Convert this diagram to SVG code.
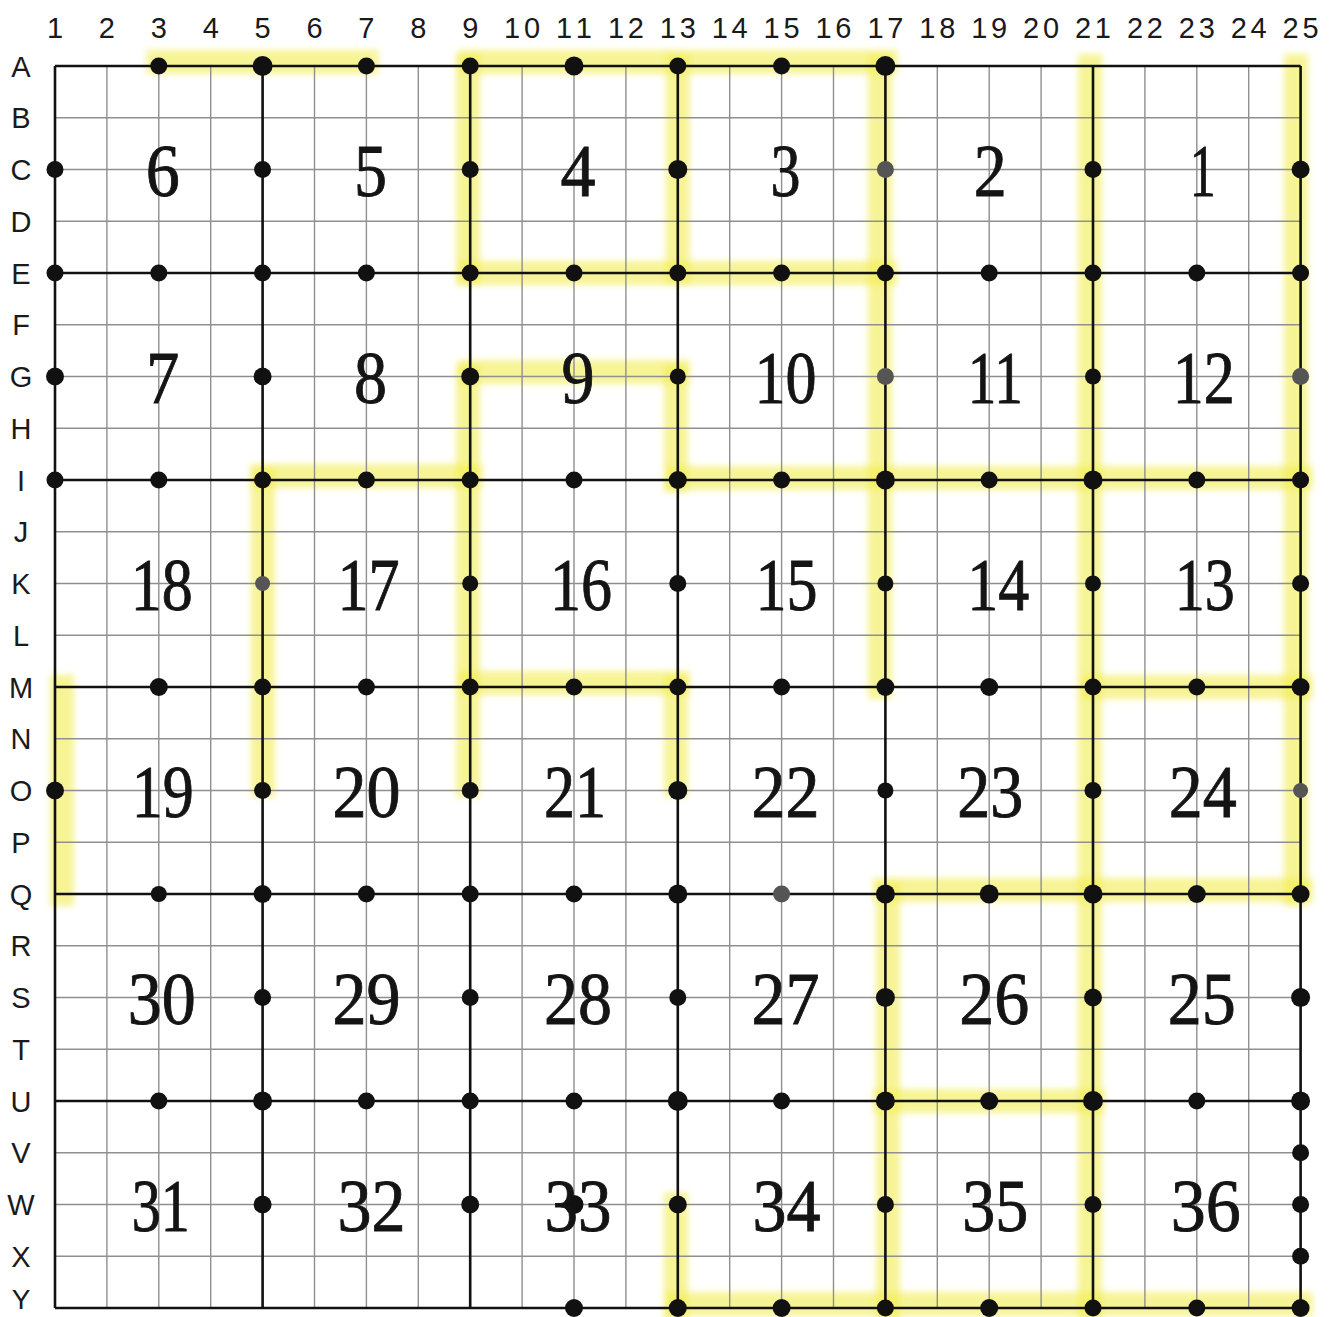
<svg xmlns="http://www.w3.org/2000/svg" width="1339" height="1317" viewBox="0 0 1339 1317">
<style>
.thin{stroke:#8f8f8f;stroke-width:1.4;fill:none}
.thick{stroke:#111;stroke-width:2.6;fill:none}
.hl{stroke:#f1ec4e;stroke-width:24;fill:none;opacity:0.6;stroke-linecap:square}
.dot{fill:#111}
.dotg{fill:#555}
.num{font-family:"Liberation Serif","Times New Roman",serif;font-size:74px;fill:#141414;stroke:#141414;stroke-width:0.9;text-anchor:middle}
.col{font-family:"Liberation Sans",Arial,sans-serif;font-size:29px;fill:#1a1a1a;text-anchor:middle}
.row{font-family:"Liberation Sans",Arial,sans-serif;font-size:29px;fill:#1a1a1a;text-anchor:middle}
</style>
<defs>
<filter id="soft" x="-5%" y="-5%" width="110%" height="110%"><feGaussianBlur stdDeviation="3"/></filter>
</defs>
<rect x="0" y="0" width="1339" height="1317" fill="#ffffff"/>

<g id="highlights" filter="url(#soft)">
<path class="hl" d="M158.8 62H366.4 M470.2 62H885.4 M470.2 273H885.4 M470.2 372H677.8 M262.6 476H470.2 M677.8 478H1300.6 M470.2 683H677.8 M1093 687H1300.6 M885.4 890H1300.6 M885.4 1101H1093 M677.8 1304H1300.6"/>
<path class="hl" d="M62 687V894 M263 480V785 M468 66V273 M468 376.5V785 M677.8 66V273 M676 376.5V480 M676 687V785 M676 1204.5V1308 M880 66V687 M888 894V1308 M1090 66V1308 M1296 66V894"/>
</g>

<g id="grid">
<path class="thin" d="M106.9 66V1308 M158.8 66V1308 M210.7 66V1308 M314.5 66V1308 M366.4 66V1308 M418.3 66V1308 M522.1 66V1308 M574 66V1308 M625.9 66V1308 M729.7 66V1308 M781.6 66V1308 M833.5 66V1308 M937.3 66V1308 M989.2 66V1308 M1041.1 66V1308 M1144.9 66V1308 M1196.8 66V1308 M1248.7 66V1308"/>
<path class="thin" d="M55 117.8H1300.6 M55 169.5H1300.6 M55 221.3H1300.6 M55 324.8H1300.6 M55 376.5H1300.6 M55 428.3H1300.6 M55 531.8H1300.6 M55 583.5H1300.6 M55 635.3H1300.6 M55 738.8H1300.6 M55 790.5H1300.6 M55 842.3H1300.6 M55 945.8H1300.6 M55 997.5H1300.6 M55 1049.3H1300.6 M55 1152.8H1300.6 M55 1204.5H1300.6 M55 1256.3H1300.6"/>
<path class="thick" d="M55 66V1308 M262.6 66V1308 M470.2 66V1308 M677.8 66V1308 M885.4 66V1308 M1093 66V1308 M1300.6 66V1308"/>
<path class="thick" d="M55 66H1300.6 M55 273H1300.6 M55 480H1300.6 M55 687H1300.6 M55 894H1300.6 M55 1101H1300.6 M55 1308H1300.6"/>
</g>

<g id="column-labels">
<text class="col" x="55" y="38">1</text>
<text class="col" x="106.9" y="38">2</text>
<text class="col" x="158.8" y="38">3</text>
<text class="col" x="210.7" y="38">4</text>
<text class="col" x="262.6" y="38">5</text>
<text class="col" x="314.5" y="38">6</text>
<text class="col" x="366.4" y="38">7</text>
<text class="col" x="418.3" y="38">8</text>
<text class="col" x="470.2" y="38">9</text>
<text class="col" x="522.1" y="38" textLength="36" lengthAdjust="spacing">10</text>
<text class="col" x="574" y="38" textLength="36" lengthAdjust="spacing">11</text>
<text class="col" x="625.9" y="38" textLength="36" lengthAdjust="spacing">12</text>
<text class="col" x="677.8" y="38" textLength="36" lengthAdjust="spacing">13</text>
<text class="col" x="729.7" y="38" textLength="36" lengthAdjust="spacing">14</text>
<text class="col" x="781.6" y="38" textLength="36" lengthAdjust="spacing">15</text>
<text class="col" x="833.5" y="38" textLength="36" lengthAdjust="spacing">16</text>
<text class="col" x="885.4" y="38" textLength="36" lengthAdjust="spacing">17</text>
<text class="col" x="937.3" y="38" textLength="36" lengthAdjust="spacing">18</text>
<text class="col" x="989.2" y="38" textLength="36" lengthAdjust="spacing">19</text>
<text class="col" x="1041.1" y="38" textLength="36" lengthAdjust="spacing">20</text>
<text class="col" x="1093" y="38" textLength="36" lengthAdjust="spacing">21</text>
<text class="col" x="1144.9" y="38" textLength="36" lengthAdjust="spacing">22</text>
<text class="col" x="1196.8" y="38" textLength="36" lengthAdjust="spacing">23</text>
<text class="col" x="1248.7" y="38" textLength="36" lengthAdjust="spacing">24</text>
<text class="col" x="1300.6" y="38" textLength="36" lengthAdjust="spacing">25</text>
</g>

<g id="row-labels">
<text class="row" x="21" y="76.5">A</text>
<text class="row" x="21" y="128.3">B</text>
<text class="row" x="21" y="180">C</text>
<text class="row" x="21" y="231.8">D</text>
<text class="row" x="21" y="283.5">E</text>
<text class="row" x="21" y="335.3">F</text>
<text class="row" x="21" y="387">G</text>
<text class="row" x="21" y="438.8">H</text>
<text class="row" x="21" y="490.5">I</text>
<text class="row" x="21" y="542.3">J</text>
<text class="row" x="21" y="594">K</text>
<text class="row" x="21" y="645.8">L</text>
<text class="row" x="21" y="697.5">M</text>
<text class="row" x="21" y="749.3">N</text>
<text class="row" x="21" y="801">O</text>
<text class="row" x="21" y="852.8">P</text>
<text class="row" x="21" y="904.5">Q</text>
<text class="row" x="21" y="956.3">R</text>
<text class="row" x="21" y="1008">S</text>
<text class="row" x="21" y="1059.8">T</text>
<text class="row" x="21" y="1111.5">U</text>
<text class="row" x="21" y="1163.3">V</text>
<text class="row" x="21" y="1215">W</text>
<text class="row" x="21" y="1266.8">X</text>
<text class="row" x="21" y="1309" style="font-size:28px">Y</text>
</g>

<g id="dots">
<circle class="dot" cx="158.8" cy="66" r="8.5"/><circle class="dot" cx="262.6" cy="66" r="10"/><circle class="dot" cx="366.4" cy="66" r="8.5"/><circle class="dot" cx="470.2" cy="66" r="8.5"/><circle class="dot" cx="574" cy="66" r="9.5"/><circle class="dot" cx="677.8" cy="66" r="8.5"/><circle class="dot" cx="781.6" cy="66" r="8.5"/><circle class="dot" cx="885.4" cy="66" r="10"/>
<circle class="dot" cx="55" cy="169.5" r="8.5"/><circle class="dot" cx="262.6" cy="169.5" r="8.5"/><circle class="dot" cx="470.2" cy="169.5" r="8.5"/><circle class="dot" cx="677.8" cy="169.5" r="9.5"/><circle class="dotg" cx="885.4" cy="169.5" r="8.5"/><circle class="dot" cx="1093" cy="169.5" r="8.5"/><circle class="dot" cx="1300.6" cy="169.5" r="9"/>
<circle class="dot" cx="55" cy="273" r="8.5"/><circle class="dot" cx="158.8" cy="273" r="8.5"/><circle class="dot" cx="262.6" cy="273" r="8.5"/><circle class="dot" cx="366.4" cy="273" r="8.5"/><circle class="dot" cx="470.2" cy="273" r="8.5"/><circle class="dot" cx="574" cy="273" r="8.5"/><circle class="dot" cx="677.8" cy="273" r="8.5"/><circle class="dot" cx="781.6" cy="273" r="8.5"/><circle class="dot" cx="885.4" cy="273" r="8.5"/><circle class="dot" cx="989.2" cy="273" r="8.5"/><circle class="dot" cx="1093" cy="273" r="8.5"/><circle class="dot" cx="1196.8" cy="273" r="8.5"/><circle class="dot" cx="1300.6" cy="273" r="8.5"/>
<circle class="dot" cx="55" cy="376.5" r="9"/><circle class="dot" cx="262.6" cy="376.5" r="9"/><circle class="dot" cx="470.2" cy="376.5" r="9"/><circle class="dot" cx="677.8" cy="376.5" r="8"/><circle class="dotg" cx="885.4" cy="376.5" r="8.5"/><circle class="dot" cx="1093" cy="376.5" r="8"/><circle class="dotg" cx="1300.6" cy="376.5" r="8.5"/>
<circle class="dot" cx="55" cy="480" r="8.5"/><circle class="dot" cx="158.8" cy="480" r="8.5"/><circle class="dot" cx="262.6" cy="480" r="8.5"/><circle class="dot" cx="366.4" cy="480" r="8.5"/><circle class="dot" cx="470.2" cy="480" r="8.5"/><circle class="dot" cx="574" cy="480" r="8.5"/><circle class="dot" cx="677.8" cy="480" r="9"/><circle class="dot" cx="781.6" cy="480" r="8.5"/><circle class="dot" cx="885.4" cy="480" r="9.5"/><circle class="dot" cx="989.2" cy="480" r="8.5"/><circle class="dot" cx="1093" cy="480" r="9.5"/><circle class="dot" cx="1196.8" cy="480" r="8.5"/><circle class="dot" cx="1300.6" cy="480" r="8.5"/>
<circle class="dotg" cx="262.6" cy="583.5" r="7.5"/><circle class="dot" cx="470.2" cy="583.5" r="8"/><circle class="dot" cx="677.8" cy="583.5" r="8.5"/><circle class="dot" cx="885.4" cy="583.5" r="8"/><circle class="dot" cx="1093" cy="583.5" r="8"/><circle class="dot" cx="1300.6" cy="583.5" r="8.5"/>
<circle class="dot" cx="158.8" cy="687" r="9"/><circle class="dot" cx="262.6" cy="687" r="8.5"/><circle class="dot" cx="366.4" cy="687" r="8.5"/><circle class="dot" cx="470.2" cy="687" r="8.5"/><circle class="dot" cx="574" cy="687" r="8.5"/><circle class="dot" cx="677.8" cy="687" r="8.5"/><circle class="dot" cx="781.6" cy="687" r="8.5"/><circle class="dot" cx="885.4" cy="687" r="9"/><circle class="dot" cx="989.2" cy="687" r="9"/><circle class="dot" cx="1093" cy="687" r="8.5"/><circle class="dot" cx="1196.8" cy="687" r="8.5"/><circle class="dot" cx="1300.6" cy="687" r="9"/>
<circle class="dot" cx="55" cy="790.5" r="9"/><circle class="dot" cx="262.6" cy="790.5" r="8.5"/><circle class="dot" cx="470.2" cy="790.5" r="8.5"/><circle class="dot" cx="677.8" cy="790.5" r="9.5"/><circle class="dot" cx="885.4" cy="790.5" r="8"/><circle class="dot" cx="1093" cy="790.5" r="8.5"/><circle class="dotg" cx="1300.6" cy="790.5" r="7.5"/>
<circle class="dot" cx="158.8" cy="894" r="8"/><circle class="dot" cx="262.6" cy="894" r="9"/><circle class="dot" cx="366.4" cy="894" r="8.5"/><circle class="dot" cx="470.2" cy="894" r="8.5"/><circle class="dot" cx="574" cy="894" r="8.5"/><circle class="dot" cx="677.8" cy="894" r="9.5"/><circle class="dotg" cx="781.6" cy="894" r="8.5"/><circle class="dot" cx="885.4" cy="894" r="9.5"/><circle class="dot" cx="989.2" cy="894" r="9.5"/><circle class="dot" cx="1093" cy="894" r="9.5"/><circle class="dot" cx="1196.8" cy="894" r="9"/><circle class="dot" cx="1300.6" cy="894" r="9"/>
<circle class="dot" cx="262.6" cy="997.5" r="8.5"/><circle class="dot" cx="470.2" cy="997.5" r="8.5"/><circle class="dot" cx="677.8" cy="997.5" r="8.5"/><circle class="dot" cx="885.4" cy="997.5" r="9.5"/><circle class="dot" cx="1093" cy="997.5" r="9"/><circle class="dot" cx="1300.6" cy="997.5" r="9.5"/>
<circle class="dot" cx="158.8" cy="1101" r="8.5"/><circle class="dot" cx="262.6" cy="1101" r="9.5"/><circle class="dot" cx="366.4" cy="1101" r="8.5"/><circle class="dot" cx="470.2" cy="1101" r="8.5"/><circle class="dot" cx="574" cy="1101" r="8.5"/><circle class="dot" cx="677.8" cy="1101" r="10"/><circle class="dot" cx="781.6" cy="1101" r="8.5"/><circle class="dot" cx="885.4" cy="1101" r="9.5"/><circle class="dot" cx="989.2" cy="1101" r="9"/><circle class="dot" cx="1093" cy="1101" r="10"/><circle class="dot" cx="1196.8" cy="1101" r="8.5"/><circle class="dot" cx="1300.6" cy="1101" r="9.5"/>
<circle class="dot" cx="1300.6" cy="1152.8" r="8.5"/>
<circle class="dot" cx="262.6" cy="1204.5" r="9"/><circle class="dot" cx="470.2" cy="1204.5" r="9"/><circle class="dot" cx="574" cy="1204.5" r="9.5"/><circle class="dot" cx="677.8" cy="1204.5" r="9"/><circle class="dot" cx="885.4" cy="1204.5" r="8.5"/><circle class="dot" cx="1093" cy="1204.5" r="8.5"/><circle class="dot" cx="1300.6" cy="1204.5" r="8.5"/>
<circle class="dot" cx="1300.6" cy="1256.3" r="8.5"/>
<circle class="dot" cx="574" cy="1308" r="9"/><circle class="dot" cx="677.8" cy="1308" r="9"/><circle class="dot" cx="781.6" cy="1308" r="9"/><circle class="dot" cx="885.4" cy="1308" r="8.5"/><circle class="dot" cx="989.2" cy="1308" r="9"/><circle class="dot" cx="1093" cy="1308" r="8.5"/><circle class="dot" cx="1196.8" cy="1308" r="8.5"/><circle class="dot" cx="1300.6" cy="1308" r="9"/>
</g>

<g id="cell-6"><text class="num" x="162.8" y="195.5" textLength="34" lengthAdjust="spacingAndGlyphs">6</text></g>
<g id="cell-5"><text class="num" x="370.4" y="195.5" textLength="33" lengthAdjust="spacingAndGlyphs">5</text></g>
<g id="cell-4"><text class="num" x="578" y="195.5" textLength="35" lengthAdjust="spacingAndGlyphs">4</text></g>
<g id="cell-3"><text class="num" x="785.6" y="195.5" textLength="30" lengthAdjust="spacingAndGlyphs">3</text></g>
<g id="cell-2"><text class="num" x="990.2" y="195.5" textLength="33" lengthAdjust="spacingAndGlyphs">2</text></g>
<g id="cell-1"><text class="num" x="1202.8" y="195.5" textLength="26" lengthAdjust="spacingAndGlyphs">1</text></g>

<g id="cell-7"><text class="num" x="162.8" y="402.5" textLength="33" lengthAdjust="spacingAndGlyphs">7</text></g>
<g id="cell-8"><text class="num" x="370.4" y="402.5" textLength="33" lengthAdjust="spacingAndGlyphs">8</text></g>
<g id="cell-9"><text class="num" x="578" y="402.5" textLength="33" lengthAdjust="spacingAndGlyphs">9</text></g>
<g id="cell-10"><text class="num" x="785.6" y="402.5" textLength="62" lengthAdjust="spacingAndGlyphs">10</text></g>
<g id="cell-11"><text class="num" x="995.2" y="402.5" textLength="55" lengthAdjust="spacingAndGlyphs">11</text></g>
<g id="cell-12"><text class="num" x="1203.8" y="402.5" textLength="62" lengthAdjust="spacingAndGlyphs">12</text></g>

<g id="cell-18"><text class="num" x="161.8" y="609.5" textLength="62" lengthAdjust="spacingAndGlyphs">18</text></g>
<g id="cell-17"><text class="num" x="368.4" y="609.5" textLength="62" lengthAdjust="spacingAndGlyphs">17</text></g>
<g id="cell-16"><text class="num" x="581" y="609.5" textLength="62" lengthAdjust="spacingAndGlyphs">16</text></g>
<g id="cell-15"><text class="num" x="786.6" y="609.5" textLength="62" lengthAdjust="spacingAndGlyphs">15</text></g>
<g id="cell-14"><text class="num" x="998.2" y="609.5" textLength="62" lengthAdjust="spacingAndGlyphs">14</text></g>
<g id="cell-13"><text class="num" x="1204.8" y="609.5" textLength="60" lengthAdjust="spacingAndGlyphs">13</text></g>

<g id="cell-19"><text class="num" x="162.8" y="816.5" textLength="62" lengthAdjust="spacingAndGlyphs">19</text></g>
<g id="cell-20"><text class="num" x="366.4" y="816.5" textLength="68" lengthAdjust="spacingAndGlyphs">20</text></g>
<g id="cell-21"><text class="num" x="575" y="816.5" textLength="62" lengthAdjust="spacingAndGlyphs">21</text></g>
<g id="cell-22"><text class="num" x="785.6" y="816.5" textLength="68" lengthAdjust="spacingAndGlyphs">22</text></g>
<g id="cell-23"><text class="num" x="990.2" y="816.5" textLength="66" lengthAdjust="spacingAndGlyphs">23</text></g>
<g id="cell-24"><text class="num" x="1202.8" y="816.5" textLength="68" lengthAdjust="spacingAndGlyphs">24</text></g>

<g id="cell-30"><text class="num" x="161.8" y="1023.5" textLength="68" lengthAdjust="spacingAndGlyphs">30</text></g>
<g id="cell-29"><text class="num" x="366.4" y="1023.5" textLength="68" lengthAdjust="spacingAndGlyphs">29</text></g>
<g id="cell-28"><text class="num" x="578" y="1023.5" textLength="68" lengthAdjust="spacingAndGlyphs">28</text></g>
<g id="cell-27"><text class="num" x="785.6" y="1023.5" textLength="68" lengthAdjust="spacingAndGlyphs">27</text></g>
<g id="cell-26"><text class="num" x="994.2" y="1023.5" textLength="70" lengthAdjust="spacingAndGlyphs">26</text></g>
<g id="cell-25"><text class="num" x="1201.8" y="1023.5" textLength="68" lengthAdjust="spacingAndGlyphs">25</text></g>

<g id="cell-31"><text class="num" x="160.8" y="1230.5" textLength="58" lengthAdjust="spacingAndGlyphs">31</text></g>
<g id="cell-32"><text class="num" x="371.4" y="1230.5" textLength="68" lengthAdjust="spacingAndGlyphs">32</text></g>
<g id="cell-33"><text class="num" x="578" y="1230.5" textLength="67" lengthAdjust="spacingAndGlyphs">33</text></g>
<g id="cell-34"><text class="num" x="786.6" y="1230.5" textLength="68" lengthAdjust="spacingAndGlyphs">34</text></g>
<g id="cell-35"><text class="num" x="995.2" y="1230.5" textLength="66" lengthAdjust="spacingAndGlyphs">35</text></g>
<g id="cell-36"><text class="num" x="1205.8" y="1230.5" textLength="70" lengthAdjust="spacingAndGlyphs">36</text></g>
</svg>
